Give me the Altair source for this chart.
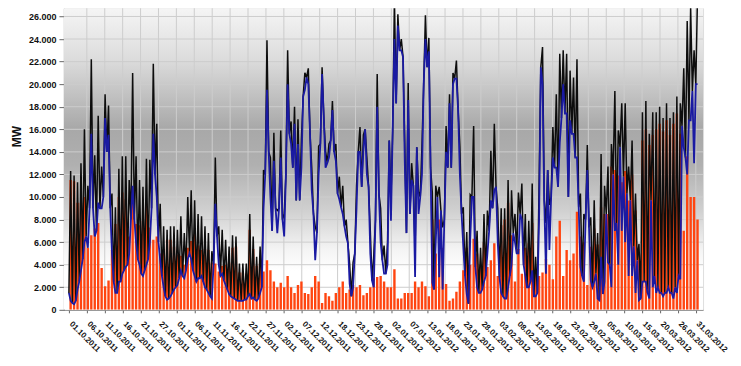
import altair as alt
import pandas as pd

tick_labels = ["01.10.2011", "06.10.2011", "11.10.2011", "16.10.2011", "21.10.2011", "27.10.2011",
               "01.11.2011", "06.11.2011", "11.11.2011", "16.11.2011", "22.11.2011", "27.11.2011",
               "02.12.2011", "07.12.2011", "12.12.2011", "18.12.2011", "23.12.2011", "28.12.2011",
               "02.01.2012", "07.01.2012", "13.01.2012", "18.01.2012", "23.01.2012", "28.01.2012",
               "03.02.2012", "08.02.2012", "13.02.2012", "18.02.2012", "23.02.2012", "29.02.2012",
               "05.03.2012", "10.03.2012", "15.03.2012", "20.03.2012", "26.03.2012", "31.03.2012"]

# wind (MW) at midnight of each day, from 01.10.2011
wind_mid = [1500, 600, 800, 2500, 4500, 6500, 9000, 9000, 7000, 9000,
            10000, 14000, 9000, 2500, 1500, 2500, 3500, 4000, 8000, 8000,
            4500, 3200, 3500, 4500, 9000, 12000, 6000, 3000, 1200, 1000,
            1500, 2000, 2800, 3000, 3500, 5000, 3500, 2500, 2800, 2500,
            1800, 1200, 4000, 6500, 3000, 2600, 1800, 1200, 1000, 800,
            800, 900, 1200, 1000, 900, 1000, 2000, 12000, 14000, 7000,
            9000, 9000, 8000, 12000, 15600, 12600, 9700, 9700, 18900, 20600,
            15600, 8500, 6800, 14700, 17000, 13000, 15000, 14000, 10300, 9100,
            7400, 5900, 1200, 5000, 14000, 10900, 16000, 10900, 2600, 8000,
            10300, 4400, 3200, 15000, 16000, 18300, 23000, 22400, 6800, 8500,
            11000, 14400, 10000, 20000, 21500, 12600, 1800, 10000, 8800, 8000,
            12600, 12600, 20500, 17700, 8500, 3000, 550, 10000, 3800, 1500,
            1800, 3000, 7000, 9000, 10900, 2900, 1200, 1000, 3000, 6800,
            5000, 8500, 4000, 2000, 2500, 1200, 1500, 21500, 9700, 12400,
            10000, 12600, 10900, 17000, 17400, 10000, 15600, 13500, 9100, 3000,
            8000, 7300, 2000, 3200, 850, 1400, 8500, 4000, 12000, 7700,
            14400, 11800, 10300, 9700, 5600, 4400, 1000, 2500, 1500, 9700,
            3000, 2000, 1500, 1500, 2000, 1500, 2000, 3000, 16300, 13500,
            16800, 19400, 20000]

# wind (MW) at noon of each day
wind_noon = [800, 500, 1800, 3500, 6000, 5500, 15600, 6500, 9500, 9000,
             17000, 15500, 5000, 1500, 2500, 3200, 3800, 5000, 11000, 6000,
             4000, 3000, 4000, 6000, 15600, 10000, 4400, 2000, 900, 1200,
             1800, 2200, 3500, 2800, 4500, 4500, 3000, 2800, 3000, 2000,
             1500, 1000, 9400, 4000, 3200, 2200, 1400, 1100, 900, 800,
             800, 900, 1400, 1100, 800, 1500, 9000, 19500, 10000, 13200,
             6800, 13500, 6500, 20000, 14700, 16500, 14700, 12600, 19500, 20000,
             10600, 4400, 12000, 20900, 12600, 13500, 17700, 13200, 9800, 8500,
             6500, 2300, 2000, 9000, 14000, 14200, 12000, 5000, 2000, 18000,
             6000, 3200, 4000, 7900, 24000, 25200, 23000, 13200, 18600, 11500,
             2900, 8500, 12000, 24000, 22900, 2400, 6000, 2900, 1800, 14000,
             18300, 20000, 20500, 12000, 5600, 1400, 6200, 10000, 2000, 1500,
             2500, 5000, 9700, 10600, 6000, 1500, 1000, 2000, 4000, 6000,
             5000, 8000, 3000, 2000, 3500, 1200, 8000, 20000, 3200, 5300,
             13500, 12600, 14800, 20000, 17400, 16800, 15600, 13500, 3800, 2500,
             12400, 2600, 2500, 1000, 4700, 2500, 4200, 2000, 7000, 4000,
             7000, 6000, 3000, 3000, 1500, 850, 2500, 2500, 1000, 2000,
             1500, 1500, 1200, 1500, 1500, 1000, 1500, 2700, 14400, 12000,
             16800, 13000, 20000]

# solar (MW) daily peak at noon
solar = [11500, 11400, 9500, 9500, 10000, 5500, 6600, 7200, 7700, 3700,
         2100, 2600, 5300, 7600, 10000, 10400, 9800, 6500, 10000, 7600,
         7500, 7900, 9400, 7300, 6200, 6500, 5000, 5400, 6200, 6200,
         5600, 4900, 4800, 4000, 5500, 6100, 6700, 5700, 5300, 5400,
         5300, 4200, 4100, 3400, 3900, 4000, 4200, 5500, 5600, 3300,
         3300, 3200, 7100, 5400, 3900, 4100, 3400, 4400, 3500, 2500,
         2000, 2400, 2000, 3000, 2000, 1500, 2200, 2500, 1500, 1400,
         2000, 3000, 2500, 600, 1500, 1200, 800, 1500, 2000, 2500,
         1500, 1800, 2200, 2000, 2200, 1300, 1500, 2000, 2800, 2900,
         3000, 2500, 2000, 2000, 3600, 1000, 1000, 1500, 1500, 1500,
         2500, 2000, 2500, 2100, 1200, 8000, 5000, 8000, 5500, 2300,
         800, 1000, 1600, 2500, 3500, 5500, 4000, 6300, 5000, 4000,
         6000, 3800, 4400, 5900, 3000, 7500, 8000, 9500, 6600, 2500,
         5400, 3200, 5500, 5900, 7700, 3500, 3000, 3300, 4500, 4000,
         2700, 6500, 7900, 3000, 5300, 4400, 5000, 8700, 6500, 6000,
         2200, 5600, 7200, 5800, 9100, 8500, 8500, 12700, 12400, 11900,
         11300, 12300, 9700, 12000, 8800, 5000, 15000, 16000, 14600, 15500,
         16000, 16500, 15800, 16800, 15500, 16500, 17400, 15600, 7000, 13600,
         10000, 10000, 8000]

n = len(solar)
rows = []
for d in range(n):
    rows.append({"t": d, "wind": wind_mid[d], "total": wind_mid[d]})
    rows.append({"t": d + 0.5, "wind": wind_noon[d], "total": wind_noon[d] + solar[d]})
lines = pd.DataFrame(rows)
bars = pd.DataFrame({"t": [d + 0.5 for d in range(n)], "solar": solar})

W, H = 640, 302
XMAX, YMAX = 182.65, 26730
xs = alt.Scale(domain=[0, XMAX], nice=False, zero=False)
ys = alt.Scale(domain=[0, YMAX], nice=False)
tick_vals = [k * 182 / 35 for k in range(36)]
y_vals = list(range(0, 26001, 2000))

lab_arr = "[" + ",".join("'" + s + "'" for s in tick_labels) + "]"
xaxis = alt.Axis(values=tick_vals, labelExpr=lab_arr + "[round(datum.value*35/182)]",
                 labelAngle=45, labelAlign="left", labelBaseline="top", labelFontSize=8,
                 labelFontWeight="bold", labelColor="#111111", tickSize=3, tickColor="#666666",
                 domainColor="#888888", grid=False, labelPadding=7, labelOffset=4, title=None,
                 labelOverlap=False, labelFlush=False, labelFont="Liberation Sans")
yaxis = alt.Axis(values=y_vals, labelExpr="replace(format(datum.value, ','), ',', '.')",
                 labelFontSize=9, labelFontWeight="bold", labelColor="#111111", tickSize=5,
                 tickColor="#666666", domainColor="#444444", grid=False, title="MW",
                 titleFontSize=12, titleFontWeight="bold", titleColor="#111111",
                 titleX=-40, titleY=128, titleAlign="center", titleBaseline="bottom",
                 labelPadding=3, labelFont="Liberation Sans", titleFont="Liberation Sans")

bg = alt.Chart(pd.DataFrame({"a": [0]})).mark_rect(
    fill=alt.Gradient(gradient="linear", x1=0, x2=0, y1=0, y2=1, stops=[
        alt.GradientStop(offset=0, color="#f5f5f5"),
        alt.GradientStop(offset=0.17, color="#dcdcdc"),
        alt.GradientStop(offset=0.40, color="#a8a8a8"),
        alt.GradientStop(offset=0.52, color="#b0b0b0"),
        alt.GradientStop(offset=0.67, color="#d0d0d0"),
        alt.GradientStop(offset=0.80, color="#f4f4f4"),
        alt.GradientStop(offset=0.87, color="#ffffff"),
        alt.GradientStop(offset=1, color="#ffffff")])
).encode(x=alt.value(0), x2=alt.value(W), y=alt.value(0), y2=alt.value(H))

xgrid = alt.Chart(pd.DataFrame({"t": tick_vals[1:]})).mark_rule(
    color="#cdcdcd", strokeWidth=1).encode(x=alt.X("t:Q", scale=xs, axis=xaxis))
ygrid = alt.Chart(pd.DataFrame({"v": y_vals[1:]})).mark_rule(
    color="#cdcdcd", strokeWidth=1).encode(y=alt.Y("v:Q", scale=ys, axis=yaxis))

bar_layer = alt.Chart(bars).mark_bar(color="#ff4510", width=2.4, clip=True).encode(
    x=alt.X("t:Q", scale=xs, axis=xaxis),
    y=alt.Y("solar:Q", scale=ys, axis=yaxis))

black = alt.Chart(lines).mark_line(color="#0d0d0d", strokeWidth=1.5, clip=True).encode(
    x=alt.X("t:Q", scale=xs, axis=xaxis),
    y=alt.Y("total:Q", scale=ys, axis=yaxis), order="t:Q")

blue = alt.Chart(lines).mark_line(color="#1a1aa2", strokeWidth=1.8, clip=True).encode(
    x=alt.X("t:Q", scale=xs, axis=xaxis),
    y=alt.Y("wind:Q", scale=ys, axis=yaxis), order="t:Q")

chart = alt.layer(bg, xgrid, ygrid, bar_layer, black, blue).properties(
    width=W, height=H, autosize=alt.AutoSizeParams(type="none"),
    padding={"left": 56, "top": 0, "right": 30, "bottom": 50}
).configure_view(stroke=None).configure(background="white")

chart.save("out.html", embed_options={"renderer": "svg", "actions": False})
